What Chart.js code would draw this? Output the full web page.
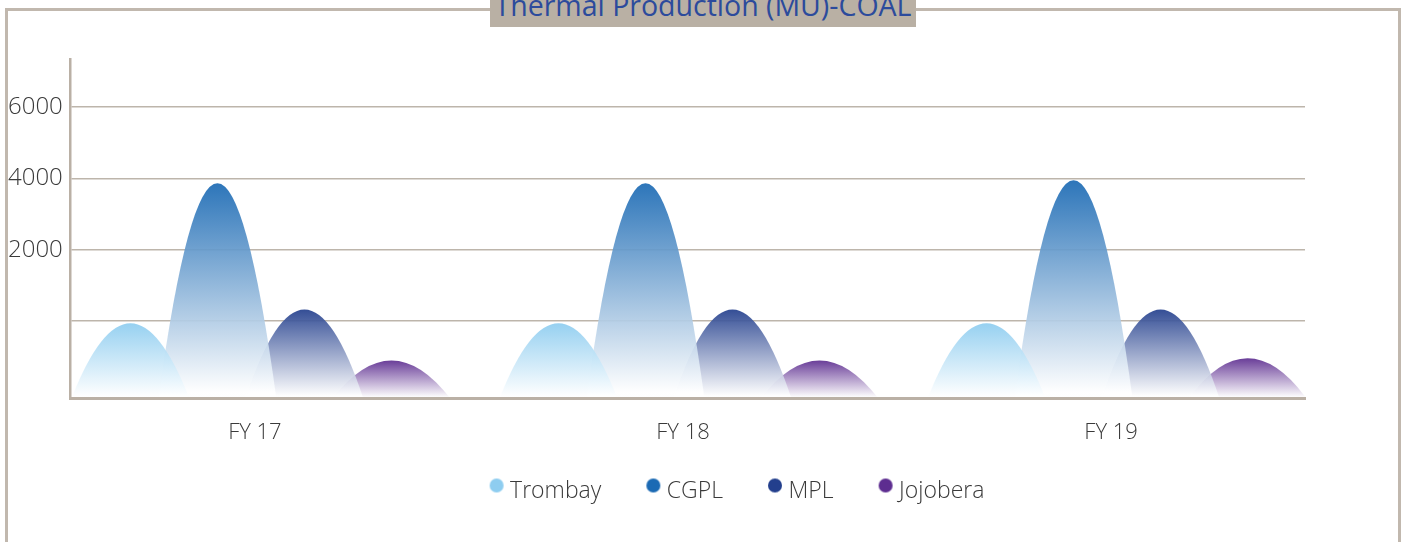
<!DOCTYPE html>
<html>
<head>
<meta charset="utf-8">
<title>Thermal Production (MU)-COAL</title>
<script src="https://cdn.jsdelivr.net/npm/chart.js@4.4.0/dist/chart.umd.min.js"></script>
<style>
  html, body { margin: 0; padding: 0; background: #fff; overflow: hidden; }
  #wrap { position: relative; width: 1402px; height: 542px; }
  #frame { position: absolute; left: 5px; top: 8px; width: 1396px; height: 600px; border: 3px solid #c1b8ae; box-sizing: border-box; }
  #title { position: absolute; left: 490px; top: 0; width: 426px; height: 27px; background: #b9b0a4; overflow: hidden; z-index: 2; }
  #title span { position: absolute; left: 0; right: 0; top: -8px; text-align: center; font: 28.5px/27px "Open Sans", sans-serif; color: #2c4b9c; white-space: nowrap; }
  canvas { position: absolute; left: 0; top: 0; z-index: 1; }
</style>
</head>
<body>
<div id="wrap">
  <div id="frame"></div>
  <div id="title"><span>Thermal Production (MU)-COAL</span></div>
  <canvas id="coalChart" width="1402" height="542"></canvas>
</div>
<script>
// data
const years = ["FY 17", "FY 18", "FY 19"];
const plants = ["Trombay", "CGPL", "MPL", "Jojobera"];
const trombay = [-60, -60, -60];
const cgpl = [3870, 3870, 3950];
const mpl = [330, 330, 330];
const jojobera = [-1100, -1100, -1040];
const yTicks = [0, 2000, 4000, 6000];

const colors = ["#8ecdf0", "#1b6ab4", "#233f8d", "#5d2d90"];
const yMin = -2170, yMax = 7350;
const xMin = -0.446, xMax = 2.439;
const axisColor = "#bab0a5";
const textColor = "#3a3a3a";
const fontFamily = "'Open Sans', sans-serif";

// legend dots: wide transparent canvas so the dot sits a bit above the text middle
const dots = colors.map(c => {
  const cv = document.createElement("canvas");
  cv.width = 64; cv.height = 30;
  const cx = cv.getContext("2d");
  cx.fillStyle = c;
  cx.beginPath();
  cx.arc(52, 9, 7, 0, Math.PI * 2);
  cx.fill();
  return cv;
});

// draw each bar as a parabola-shaped hill with a fade to white
const archBars = {
  id: "archBars",
  beforeDatasetDraw(chart, args) {
    const { ctx, chartArea } = chart;
    const ds = chart.data.datasets[args.index];
    ctx.save();
    ctx.beginPath();
    ctx.rect(chartArea.left, chartArea.top, chartArea.width, chartArea.height);
    ctx.clip();
    ctx.globalAlpha = 0.92;
    args.meta.data.forEach(bar => {
      const { x, y, base, width } = bar.getProps(["x", "y", "base", "width"], true);
      const g = ctx.createLinearGradient(0, y, 0, base);
      g.addColorStop(0, ds.backgroundColor);
      g.addColorStop(0.97, "#ffffff");
      ctx.fillStyle = g;
      ctx.beginPath();
      ctx.moveTo(x - width / 2, base);
      ctx.quadraticCurveTo(x, 2 * y - base, x + width / 2, base);
      ctx.closePath();
      ctx.fill();
    });
    ctx.restore();
    return false;
  }
};

// nudge the legend so it sits where the original has it
const legendShift = {
  id: "legendShift",
  afterLayout(chart) {
    const lg = chart.legend;
    const pad = lg.options.labels.padding;
    const lineW = lg.lineWidths[0];
    const startX = (lg.left + pad + lg.right - lineW) / 2;
    const visualCenter = startX + (35 + lineW - pad) / 2;
    const dx = 737 - visualCenter;
    lg.left += dx;
    lg.right += dx;
  }
};

const series = [trombay, cgpl, mpl, jojobera];

new Chart(document.getElementById("coalChart"), {
  type: "bar",
  data: {
    datasets: plants.map((name, k) => ({
      label: name,
      data: series[k].map((v, i) => ({ x: i, y: v })),
      backgroundColor: colors[k],
      base: yMin,
      categoryPercentage: 0.813,
      barPercentage: 1.356
    }))
  },
  options: {
    responsive: false,
    animation: false,
    layout: { padding: { top: 59, left: 8, right: 97, bottom: 29 } },
    plugins: {
      tooltip: { enabled: false },
      title: { display: false },
      legend: {
        position: "bottom",
        labels: {
          usePointStyle: true,
          pointStyleWidth: 44,
          boxHeight: 10,
          padding: 10,
          color: textColor,
          font: { family: fontFamily, size: 23, weight: 300 },
          generateLabels: chart => Chart.defaults.plugins.legend.labels.generateLabels(chart)
            .map((item, i) => Object.assign(item, { pointStyle: dots[i] }))
        }
      }
    },
    scales: {
      x: {
        type: "linear",
        min: xMin,
        max: xMax,
        offset: false,
        afterBuildTicks: s => { s.ticks = years.map((_, i) => ({ value: i })); },
        afterFit: s => { s.height += 3; },
        grid: { drawOnChartArea: false, drawTicks: false, offset: false },
        border: { color: axisColor, width: 3, z: 1 },
        ticks: {
          padding: 21,
          labelOffset: -6,
          color: textColor,
          font: { family: fontFamily, size: 22, weight: 300 },
          callback: v => years[v]
        }
      },
      y: {
        min: yMin,
        max: yMax,
        afterBuildTicks: s => { s.ticks = yTicks.map(v => ({ value: v })); },
        afterFit: s => { s.width = 62; },
        grid: { color: "#bdb5ab", lineWidth: 1.5, drawTicks: false },
        border: { color: axisColor, width: 2.5 },
        ticks: {
          crossAlign: "far",
          padding: 0,
          color: textColor,
          font: { family: fontFamily, size: 24, weight: 300 },
          callback: v => (v === 0 ? "" : v)
        }
      }
    }
  },
  plugins: [archBars, legendShift]
});
</script>
</body>
</html>
